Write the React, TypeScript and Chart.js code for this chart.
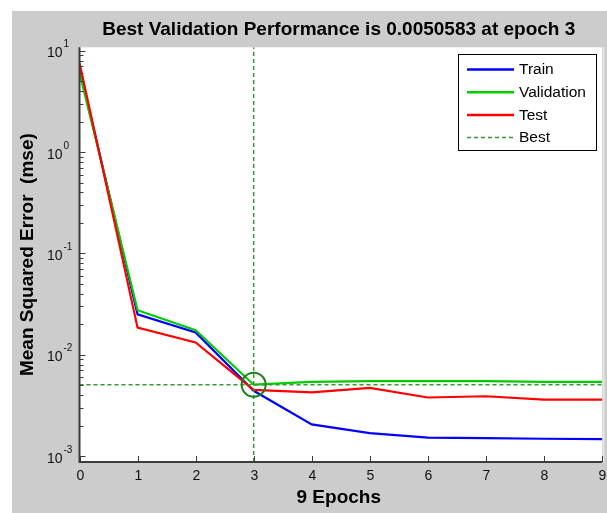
import React, { useEffect, useRef } from 'react';
import { Chart, registerables } from 'chart.js';

Chart.register(...registerables);

// ---- data ----
const epochs = [0, 1, 2, 3, 4, 5, 6, 7, 8, 9];
const trainPerf = [6.6, 0.025, 0.0166, 0.0044, 0.00205, 0.00168, 0.00152, 0.0015, 0.00148, 0.00147];
const valPerf = [6.08, 0.0275, 0.0174, 0.0050583, 0.0054, 0.00548, 0.00548, 0.00548, 0.0054, 0.0054];
const testPerf = [7.6, 0.0185, 0.0132, 0.0045, 0.00425, 0.0047, 0.00378, 0.00389, 0.0036, 0.0036];
const bestEpoch = 3;
const bestPerf = 0.0050583;
const xTickLabels = ['0', '1', '2', '3', '4', '5', '6', '7', '8', '9'];
const yDecadeExponents = [-3, -2, -1, 0, 1];
const yMin = 0.000873;
const yMax = 10.8;
const xMin = 0;
const xMax = 9;
const titleText = 'Best Validation Performance is 0.0050583 at epoch 3';
const xTitleText = '9 Epochs';
const yTitleText = 'Mean Squared Error  (mse)';
const legendLabels = ['Train', 'Validation', 'Test', 'Best'];

const FONT = "'Liberation Sans', Arial, sans-serif";
const C_TRAIN = '#0000ff';
const C_VAL = '#00cc00';
const C_TEST = '#ff0000';
const C_BEST = '#339933';
const C_CIRCLE = '#1a801a';
const C_AXIS = '#3c3c3c';
const C_BG = '#cccccc';

const decorPlugin = {
  id: 'matlabDecor',
  beforeDraw(chart: any) {
    const { ctx, chartArea } = chart;
    ctx.save();
    ctx.fillStyle = C_BG;
    ctx.fillRect(0, 0, chart.width, chart.height);
    ctx.fillStyle = '#ffffff';
    ctx.fillRect(chartArea.left, chartArea.top, chartArea.right - chartArea.left, chartArea.bottom - chartArea.top);
    ctx.restore();
  },
  afterDraw(chart: any) {
    const { ctx, chartArea } = chart;
    const xs = chart.scales.x;
    const ys = chart.scales.y;
    const L = chartArea.left;
    const R = chartArea.right;
    const T = chartArea.top;
    const B = chartArea.bottom;
    ctx.save();

    // axis lines
    ctx.strokeStyle = C_AXIS;
    ctx.lineWidth = 2;
    ctx.beginPath();
    ctx.moveTo(L, T);
    ctx.lineTo(L, B);
    ctx.lineTo(R, B);
    ctx.stroke();

    // right light border
    ctx.strokeStyle = '#e6e6e6';
    ctx.lineWidth = 2;
    ctx.beginPath();
    ctx.moveTo(R + 1.5, T);
    ctx.lineTo(R + 1.5, B);
    ctx.stroke();

    // x ticks (inward)
    ctx.strokeStyle = C_AXIS;
    ctx.lineWidth = 1;
    ctx.fillStyle = '#111111';
    ctx.font = `14px ${FONT}`;
    ctx.textAlign = 'center';
    ctx.textBaseline = 'alphabetic';
    xTickLabels.forEach((lab, i) => {
      const px = Math.round(xs.getPixelForValue(i)) + 0.5;
      ctx.beginPath();
      ctx.moveTo(px, B);
      ctx.lineTo(px, B - 6);
      ctx.stroke();
      ctx.fillText(lab, px, B + 18);
    });

    // y ticks (inward, log)
    yDecadeExponents.forEach((e) => {
      for (let m = 1; m <= 9; m++) {
        const v = m * Math.pow(10, e);
        if (v < yMin || v > yMax) continue;
        const py = Math.round(ys.getPixelForValue(v)) + 0.5;
        ctx.beginPath();
        ctx.moveTo(L, py);
        ctx.lineTo(L + (m === 1 ? 6 : 4), py);
        ctx.stroke();
      }
      const py = ys.getPixelForValue(Math.pow(10, e));
      ctx.font = `14px ${FONT}`;
      ctx.textAlign = 'right';
      ctx.fillText('10', L - 17, py + 6.5);
      ctx.font = `10px ${FONT}`;
      ctx.textAlign = 'left';
      ctx.fillText(e < 0 ? '-' + String(-e) : String(e), L - 16, py - 3.5);
    });

    // title
    ctx.fillStyle = '#000000';
    ctx.font = `bold 19px ${FONT}`;
    ctx.textAlign = 'center';
    ctx.fillText(titleText, (L + R) / 2 - 2, 23.5);

    // x title
    ctx.fillText(xTitleText, (L + R) / 2 - 2, B + 41);

    // y title
    ctx.save();
    ctx.translate(16, (T + B) / 2);
    ctx.rotate(-Math.PI / 2);
    ctx.textBaseline = 'middle';
    ctx.fillText(yTitleText, 0, 0);
    ctx.restore();

    // legend
    const lx0 = 446, lx1 = 585, ly0 = 43, ly1 = 140;
    ctx.fillStyle = '#ffffff';
    ctx.fillRect(lx0, ly0, lx1 - lx0, ly1 - ly0);
    ctx.strokeStyle = '#000000';
    ctx.lineWidth = 1;
    ctx.strokeRect(lx0 + 0.5, ly0 + 0.5, lx1 - lx0 - 1, ly1 - ly0 - 1);
    const colors = [C_TRAIN, C_VAL, C_TEST, C_BEST];
    legendLabels.forEach((lab, i) => {
      const y = 58.5 + 22.7 * i;
      ctx.strokeStyle = colors[i];
      ctx.lineWidth = i === 3 ? 1.5 : 2.5;
      ctx.setLineDash(i === 3 ? [4, 3] : []);
      ctx.beginPath();
      ctx.moveTo(455, y);
      ctx.lineTo(502, y);
      ctx.stroke();
      ctx.setLineDash([]);
      ctx.fillStyle = '#000000';
      ctx.font = `15.5px ${FONT}`;
      ctx.textAlign = 'left';
      ctx.textBaseline = 'middle';
      ctx.fillText(lab, 507, y + 0.5);
    });

    ctx.restore();
  },
};

export default function App() {
  const ref = useRef<HTMLCanvasElement | null>(null);
  useEffect(() => {
    if (!ref.current) return;
    const pts = (arr: number[]) => epochs.map((e, i) => ({ x: e, y: arr[i] }));
    const chart = new Chart(ref.current, {
      type: 'line',
      data: {
        datasets: [
          { label: 'Train', data: pts(trainPerf), borderColor: C_TRAIN, borderWidth: 2.2, pointRadius: 0, tension: 0, order: 6 },
          { label: 'Validation', data: pts(valPerf), borderColor: C_VAL, borderWidth: 2.2, pointRadius: 0, tension: 0, order: 5 },
          { label: 'Test', data: pts(testPerf), borderColor: C_TEST, borderWidth: 2.2, pointRadius: 0, tension: 0, order: 4 },
          {
            label: 'Best',
            data: [{ x: xMin, y: bestPerf }, { x: xMax, y: bestPerf }],
            borderColor: C_BEST, borderWidth: 1.5, borderDash: [4, 3], pointRadius: 0, order: 3,
          },
          {
            label: 'BestV',
            data: [{ x: bestEpoch, y: yMin }, { x: bestEpoch, y: yMax }],
            borderColor: C_BEST, borderWidth: 1.5, borderDash: [4, 3], pointRadius: 0, order: 2,
          },
          {
            label: 'BestPoint',
            data: [{ x: bestEpoch, y: bestPerf }],
            showLine: false,
            pointRadius: 12,
            pointBorderWidth: 2,
            pointBorderColor: C_CIRCLE,
            pointBackgroundColor: 'rgba(0,0,0,0)',
            order: 1,
          },
        ],
      },
      options: {
        animation: false,
        responsive: false,
        devicePixelRatio: 1,
        layout: { autoPadding: false, padding: { left: 67.5, top: 36.3, right: 5, bottom: 51 } },
        scales: {
          x: { type: 'linear', min: xMin, max: xMax, display: false },
          y: { type: 'logarithmic', min: yMin, max: yMax, display: false },
        },
        plugins: {
          legend: { display: false },
          title: { display: false },
          tooltip: { enabled: false },
        },
        events: [],
      },
      plugins: [decorPlugin],
    });
    return () => chart.destroy();
  }, []);

  return (
    <canvas
      ref={ref}
      width={595}
      height={502}
      style={{ position: 'fixed', left: 12, top: 11, width: 595, height: 502, display: 'block' }}
    />
  );
}
